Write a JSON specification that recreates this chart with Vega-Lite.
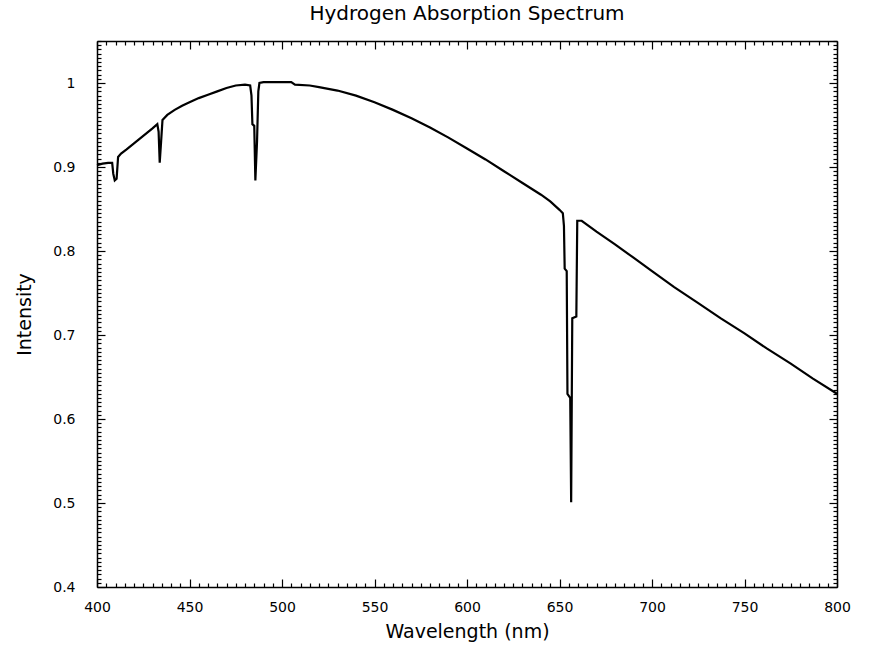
{
  "$schema": "https://vega.github.io/schema/vega-lite/v6.json",
  "width": 740,
  "height": 546,
  "autosize": {"type": "none"},
  "padding": {"left": 97, "top": 41, "right": 34, "bottom": 58},
  "background": "white",
  "title": {
    "text": "Hydrogen Absorption Spectrum",
    "font": "DejaVu Sans",
    "fontSize": 20,
    "fontWeight": "normal",
    "color": "black",
    "offset": 10
  },
  "config": {
    "view": {"stroke": null},
    "axis": {
      "domainColor": "black",
      "domainWidth": 1.5,
      "tickColor": "black",
      "tickWidth": 1.2,
      "grid": false,
      "labelFont": "DejaVu Sans",
      "labelFontSize": 14,
      "labelColor": "black",
      "labelOverlap": false,
      "labelFlush": false,
      "labelBound": false,
      "titleFont": "DejaVu Sans",
      "titleFontSize": 19,
      "titleFontWeight": "normal",
      "titleColor": "black"
    }
  },
  "data": {
    "values": [
      {"wavelength": 400, "intensity": 0.902},
      {"wavelength": 403, "intensity": 0.904},
      {"wavelength": 406, "intensity": 0.905},
      {"wavelength": 408.2, "intensity": 0.905},
      {"wavelength": 408.8, "intensity": 0.892},
      {"wavelength": 409.6, "intensity": 0.884},
      {"wavelength": 410.6, "intensity": 0.886},
      {"wavelength": 411.4, "intensity": 0.912},
      {"wavelength": 413, "intensity": 0.916},
      {"wavelength": 416, "intensity": 0.921},
      {"wavelength": 420, "intensity": 0.928},
      {"wavelength": 425, "intensity": 0.937},
      {"wavelength": 430, "intensity": 0.946},
      {"wavelength": 432.6, "intensity": 0.951},
      {"wavelength": 433.3, "intensity": 0.942},
      {"wavelength": 433.9, "intensity": 0.905},
      {"wavelength": 434.7, "intensity": 0.932},
      {"wavelength": 435.4, "intensity": 0.956},
      {"wavelength": 438, "intensity": 0.962},
      {"wavelength": 442, "intensity": 0.968},
      {"wavelength": 446, "intensity": 0.973},
      {"wavelength": 450, "intensity": 0.977},
      {"wavelength": 455, "intensity": 0.982},
      {"wavelength": 460, "intensity": 0.986},
      {"wavelength": 465, "intensity": 0.99},
      {"wavelength": 470, "intensity": 0.994},
      {"wavelength": 475, "intensity": 0.997},
      {"wavelength": 480, "intensity": 0.998},
      {"wavelength": 482.8, "intensity": 0.997},
      {"wavelength": 483.5, "intensity": 0.985},
      {"wavelength": 484, "intensity": 0.951},
      {"wavelength": 485, "intensity": 0.949},
      {"wavelength": 485.6, "intensity": 0.884},
      {"wavelength": 486.5, "intensity": 0.93},
      {"wavelength": 487.2, "intensity": 0.99},
      {"wavelength": 487.8, "intensity": 1.0},
      {"wavelength": 490, "intensity": 1.001},
      {"wavelength": 500, "intensity": 1.001},
      {"wavelength": 505, "intensity": 1.001},
      {"wavelength": 507, "intensity": 0.998},
      {"wavelength": 515, "intensity": 0.997},
      {"wavelength": 520, "intensity": 0.995},
      {"wavelength": 530, "intensity": 0.991},
      {"wavelength": 540, "intensity": 0.985},
      {"wavelength": 550, "intensity": 0.977},
      {"wavelength": 560, "intensity": 0.968},
      {"wavelength": 570, "intensity": 0.958},
      {"wavelength": 580, "intensity": 0.947},
      {"wavelength": 590, "intensity": 0.935},
      {"wavelength": 600, "intensity": 0.922},
      {"wavelength": 610, "intensity": 0.909},
      {"wavelength": 620, "intensity": 0.895},
      {"wavelength": 630, "intensity": 0.881},
      {"wavelength": 640, "intensity": 0.867},
      {"wavelength": 645, "intensity": 0.859},
      {"wavelength": 650, "intensity": 0.849},
      {"wavelength": 651.8, "intensity": 0.845},
      {"wavelength": 652.4, "intensity": 0.83},
      {"wavelength": 652.8, "intensity": 0.779},
      {"wavelength": 653.9, "intensity": 0.776},
      {"wavelength": 654.3, "intensity": 0.63},
      {"wavelength": 655.8, "intensity": 0.625},
      {"wavelength": 656.3, "intensity": 0.501},
      {"wavelength": 656.9, "intensity": 0.72},
      {"wavelength": 659.1, "intensity": 0.722},
      {"wavelength": 659.6, "intensity": 0.836},
      {"wavelength": 662, "intensity": 0.836},
      {"wavelength": 670, "intensity": 0.823},
      {"wavelength": 680, "intensity": 0.808},
      {"wavelength": 690, "intensity": 0.792},
      {"wavelength": 700, "intensity": 0.776},
      {"wavelength": 712, "intensity": 0.757},
      {"wavelength": 725, "intensity": 0.738},
      {"wavelength": 737, "intensity": 0.72},
      {"wavelength": 750, "intensity": 0.702},
      {"wavelength": 762, "intensity": 0.684},
      {"wavelength": 775, "intensity": 0.666},
      {"wavelength": 787, "intensity": 0.648},
      {"wavelength": 800, "intensity": 0.63}
    ]
  },
  "layer": [
    {
      "mark": {"type": "line", "color": "black", "strokeWidth": 2.2},
      "encoding": {
        "x": {
          "field": "wavelength",
          "type": "quantitative",
          "scale": {"domain": [400, 800], "nice": false, "zero": false},
          "axis": {
            "orient": "bottom",
            "title": "Wavelength (nm)",
            "tickCount": 80,
            "tickSize": {"condition": {"test": "datum.value % 50 === 0", "value": -8}, "value": -4},
            "labelExpr": "datum.value % 50 === 0 ? datum.label : ''",
            "labelPadding": 21,
            "titlePadding": 4
          }
        },
        "y": {
          "field": "intensity",
          "type": "quantitative",
          "scale": {"domain": [0.4, 1.05], "nice": false, "zero": false},
          "axis": {
            "orient": "left",
            "title": "Intensity",
            "tickCount": 130,
            "tickSize": {"condition": {"test": "abs(datum.value * 10 - round(datum.value * 10)) < 1e-6", "value": -8}, "value": -4},
            "labelExpr": "abs(datum.value * 10 - round(datum.value * 10)) < 1e-6 ? format(datum.value, '.1~f') : ''",
            "labelPadding": 30,
            "titlePadding": 18
          }
        }
      }
    },
    {
      "mark": {"type": "line", "opacity": 0},
      "encoding": {
        "x": {
          "field": "wavelength",
          "type": "quantitative",
          "axis": {
            "orient": "top",
            "title": null,
            "labels": false,
            "tickCount": 80,
            "tickSize": {"condition": {"test": "datum.value % 50 === 0", "value": -8}, "value": -4}
          }
        },
        "y": {
          "field": "intensity",
          "type": "quantitative",
          "axis": {
            "orient": "right",
            "title": null,
            "labels": false,
            "tickCount": 130,
            "tickSize": {"condition": {"test": "abs(datum.value * 10 - round(datum.value * 10)) < 1e-6", "value": -8}, "value": -4}
          }
        }
      }
    }
  ],
  "resolve": {"axis": {"x": "independent", "y": "independent"}}
}
